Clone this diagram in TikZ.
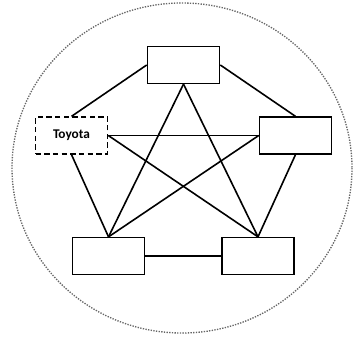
\documentclass[tikz,border=0pt]{standalone}
\usepackage{fontspec}
\setmainfont{Carlito}
\begin{document}
\begin{tikzpicture}[x=0.75pt,y=-0.75pt,
  firm/.style={draw,line width=1.2pt,minimum width=54pt,minimum height=27.5pt,inner sep=0pt},
  focal/.style={firm,dashed,dash pattern=on 4pt off 2.5pt,font=\bfseries},
  tie/.style={line width=1.2pt},
  every node/.style={font=\normalsize}]
\draw[black!60,densely dotted,line width=1pt] (182,168) ellipse (170 and 165);
\node[firm] (top) at (183.5,65) {};
\node[firm] (right) at (295.5,135.5) {};
\node[focal] (toyota) at (71.5,135.5) {Toyota};
\node[firm] (bl) at (108.5,256) {};
\node[firm] (br) at (258,256) {};
\draw[tie] (top.west) -- (toyota.north);
\draw[tie] (top.east) -- (right.north);
\draw[tie] (top.south) -- (bl.north);
\draw[tie] (top.south) -- (br.north);
\draw[tie] (toyota.east) -- (right.west);
\draw[tie] (toyota.east) -- (br.north);
\draw[tie] (toyota.south) -- (bl.north);
\draw[tie] (right.west) -- (bl.north);
\draw[tie] (right.south) -- (br.north);
\draw[tie] (bl.east) -- (br.west);
\path[use as bounding box] (0,0) rectangle (359,341);
\end{tikzpicture}
\end{document}
